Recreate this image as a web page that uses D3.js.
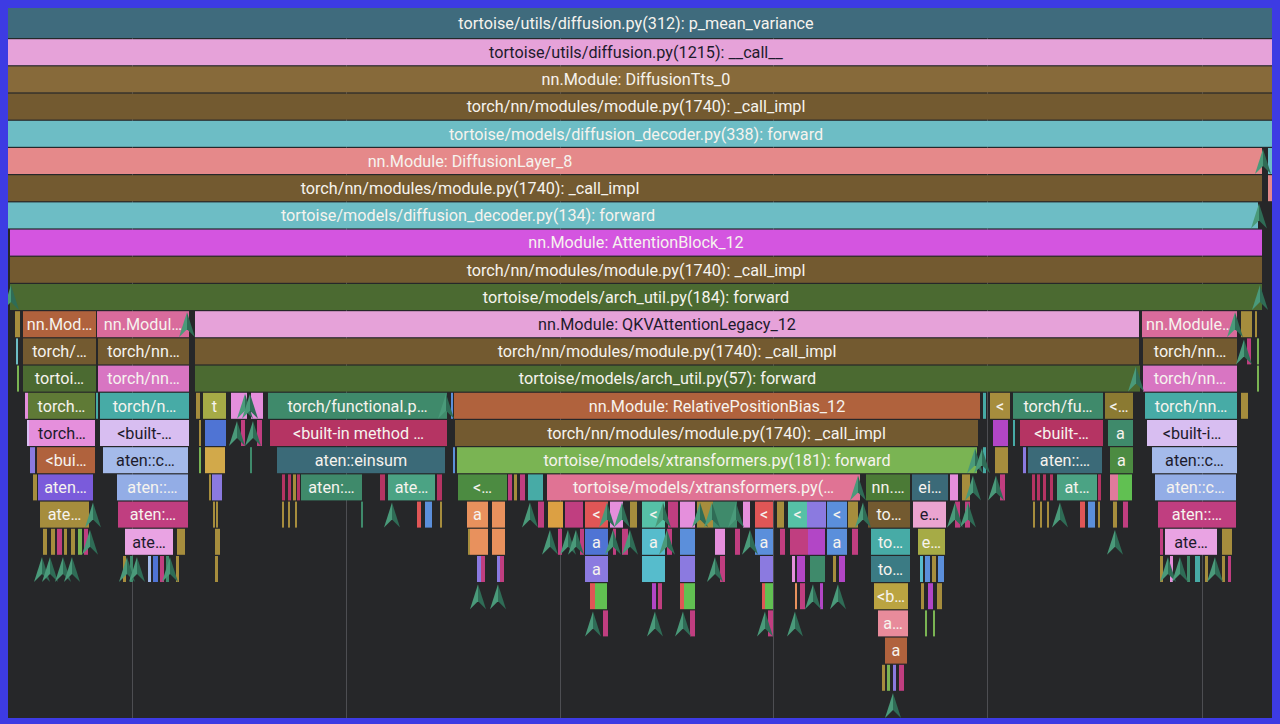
<!DOCTYPE html>
<html><head><meta charset="utf-8">
<script src="https://cdn.jsdelivr.net/npm/d3@7"></script>
<style>html,body{margin:0;padding:0;background:#3d3be3;overflow:hidden}svg{display:block}</style>
</head><body>
<svg id="chart" width="1280" height="724"></svg>
<script>
// ---- data: zoomed time window (ms) of the profile and the visible stack depth ----
const windowMs = [8, 1272];
const depthCount = 26;
const gridTicks = [132, 346, 560, 773, 987, 1202];

// frames: [depth, start ms, end ms, label, category]
const baseFrames = [
  [0, 0, 1272, "tortoise/utils/diffusion.py(312): p_mean_variance", "slate"],
  [1, 0, 1272, "tortoise/utils/diffusion.py(1215): __call__", "lilac"],
  [2, 0, 1272, "nn.Module: DiffusionTts_0", "ochre"],
  [3, 0, 1272, "torch/nn/modules/module.py(1740): _call_impl", "brown"],
  [4, 0, 1272, "tortoise/models/diffusion_decoder.py(338): forward", "cyan"],
  [5, -322, 1262, "nn.Module: DiffusionLayer_8", "salmon"],
  [5, 1268, 1272, "", "cyan"],
  [6, -322, 1262, "torch/nn/modules/module.py(1740): _call_impl", "brown"],
  [6, 1268, 1272, "", "salmon"],
  [7, -322, 1258, "tortoise/models/diffusion_decoder.py(134): forward", "cyan"],
  [8, 10, 1262, "nn.Module: AttentionBlock_12", "magenta"],
  [9, 10, 1262, "torch/nn/modules/module.py(1740): _call_impl", "brown"],
  [10, 10, 1262, "tortoise/models/arch_util.py(184): forward", "green"]
];

const leftFrames = [
  [11, 15, 20, "", "gold"],
  [11, 23, 96, "nn.Mod…", "rust"],
  [11, 97, 189, "nn.Modul…", "rose"],
  [12, 16, 18, "", "cyan"],
  [12, 23, 96, "torch/…", "brown"],
  [12, 98, 189, "torch/nn…", "brown"],
  [13, 17, 19, "", "lime"],
  [13, 23, 96, "tortoi…", "green"],
  [13, 98, 189, "torch/nn…", "orchid"],
  [14, 25, 28, "", "pinkD"],
  [14, 28, 95, "torch…", "olive"],
  [14, 96, 98, "", "teal"],
  [14, 100, 189, "torch/n…", "teal"],
  [15, 27, 29, "", "lavender"],
  [15, 29, 95, "torch…", "pinkD"],
  [15, 100, 189, "<built-…", "lavender"],
  [16, 30, 35, "", "purple"],
  [16, 37, 95, "<bui…", "rust"],
  [16, 103, 188, "aten::c…", "sky"],
  [17, 33, 37, "", "gold"],
  [17, 38, 93, "aten…", "violet"],
  [17, 117, 188, "aten::…", "peri"],
  [18, 40, 89, "ate…", "gold"],
  [18, 118, 188, "aten:…", "berry"],
  [19, 43, 47, "", "gold"], [19, 51, 55, "", "gold"], [19, 57, 62, "", "berry"],
  [19, 64, 67, "", "gold"], [19, 71, 75, "", "gold"], [19, 78, 82, "", "lime"], [19, 84, 88, "", "berry"],
  [19, 125, 173, "ate…", "pinklight"],
  [19, 177, 185, "", "gold"],
  [20, 123, 126, "", "gold"], [20, 130, 133, "", "jade"], [20, 148, 151, "", "sky"],
  [20, 153, 158, "", "royal"], [20, 160, 164, "", "berry"], [20, 166, 169, "", "jade"], [20, 176, 179, "", "gold"]
];

const qkvFrames = [
  [11, 195, 1139, "nn.Module: QKVAttentionLegacy_12", "lilac"],
  [12, 195, 1139, "torch/nn/modules/module.py(1740): _call_impl", "brown"],
  [13, 195, 1140, "tortoise/models/arch_util.py(57): forward", "green"],
  [14, 196, 200, "", "gold"],
  [14, 203, 226, "t", "tan"],
  [14, 231, 247, "", "pinkD"],
  [14, 251, 263, "", "pinkD"],
  [14, 268, 447, "torch/functional.p…", "jade"],
  [14, 451, 453, "", "blue"],
  [14, 454, 980, "nn.Module: RelativePositionBias_12", "rust"],
  [14, 983, 986, "", "teal"],
  [14, 990, 1010, "<", "gold"],
  [14, 1013, 1103, "torch/fu…", "jade"],
  [14, 1105, 1133, "<…", "goldDark"],
  [15, 199, 201, "", "gold"],
  [15, 205, 226, "", "royal"],
  [15, 241, 245, "", "berry"],
  [15, 257, 262, "", "berry"],
  [15, 270, 447, "<built-in method …", "crimson"],
  [15, 455, 978, "torch/nn/modules/module.py(1740): _call_impl", "brown"],
  [15, 993, 1008, "", "plum"],
  [15, 1013, 1015, "", "teal"],
  [15, 1020, 1103, "<built-…", "crimson"],
  [15, 1108, 1133, "a", "jade"],
  [16, 199, 201, "", "lime"],
  [16, 205, 225, "", "goldLight"],
  [16, 250, 252, "", "jade"],
  [16, 277, 445, "aten::einsum", "ltslate"],
  [16, 453, 455, "", "blue"],
  [16, 457, 977, "tortoise/models/xtransformers.py(181): forward", "lime"],
  [16, 983, 986, "", "teal"],
  [16, 995, 1008, "", "gold"],
  [16, 1023, 1026, "", "purple"],
  [16, 1028, 1102, "aten::…", "ltslate"],
  [16, 1110, 1133, "a", "leaf"]
];

const deepFrames = [
  [17, 209, 211, "", "gold"], [17, 212, 222, "", "purple"],
  [17, 282, 285, "", "crimson"], [17, 288, 291, "", "crimson"], [17, 293, 296, "", "gold"], [17, 297, 300, "", "crimson"],
  [17, 301, 362, "aten:…", "jade"],
  [17, 380, 385, "", "crimson"],
  [17, 388, 435, "ate…", "mint"],
  [17, 437, 442, "", "crimson"],
  [17, 458, 507, "<…", "leaf"],
  [17, 508, 512, "", "berry"], [17, 514, 517, "", "gold"], [17, 520, 525, "", "berry"],
  [17, 528, 543, "", "teal"],
  [17, 547, 860, "tortoise/models/xtransformers.py(…", "hotpink"],
  [17, 866, 910, "nn.…", "green2"],
  [17, 912, 948, "ei…", "ltslate"],
  [17, 950, 958, "", "pinkD"], [17, 962, 970, "", "gold"],
  [17, 1000, 1005, "", "berry"],
  [17, 1032, 1035, "", "crimson"], [17, 1037, 1040, "", "crimson"], [17, 1043, 1046, "", "crimson"], [17, 1050, 1053, "", "crimson"],
  [17, 1057, 1097, "at…", "mint"],
  [17, 1098, 1101, "", "crimson"],
  [17, 1110, 1118, "", "pinkish"], [17, 1118, 1132, "", "lightgreen"],
  [18, 213, 215, "", "gold"], [18, 216, 218, "", "gold"],
  [18, 282, 284, "", "gold"], [18, 288, 290, "", "gold"], [18, 295, 297, "", "gold"],
  [18, 361, 363, "", "jade"],
  [18, 417, 421, "", "red"], [18, 425, 432, "", "blue"], [18, 440, 442, "", "gold"],
  [18, 467, 488, "a", "orange"], [18, 492, 505, "", "orange"],
  [18, 538, 544, "", "berry"], [18, 548, 563, "", "amber"], [18, 565, 583, "", "berry"],
  [18, 585, 608, "<", "red"],
  [18, 610, 623, "", "pinkD"], [18, 630, 637, "", "gold"],
  [18, 642, 665, "<", "aqua"],
  [18, 668, 678, "", "berry"], [18, 680, 695, "", "pinkD"], [18, 697, 713, "", "gold"],
  [18, 713, 737, "", "jade"], [18, 743, 750, "", "pinkD"],
  [18, 755, 773, "<", "red"],
  [18, 777, 784, "", "gold"],
  [18, 788, 807, "<", "aqua"],
  [18, 807, 826, "", "purple"],
  [18, 827, 847, "<", "blue"],
  [18, 848, 858, "", "gold"],
  [18, 868, 910, "to…", "brown"],
  [18, 913, 946, "e…", "pinkE"],
  [18, 955, 960, "", "berry"], [18, 965, 970, "", "berry"],
  [18, 1033, 1035, "", "gold"], [18, 1040, 1042, "", "gold"], [18, 1047, 1049, "", "gold"],
  [18, 1080, 1085, "", "red"], [18, 1088, 1095, "", "blue"], [18, 1098, 1100, "", "gold"],
  [18, 1113, 1117, "", "gold"], [18, 1123, 1128, "", "berry"],
  [19, 215, 220, "", "gold"],
  [19, 468, 470, "", "gold"], [19, 470, 488, "", "orange"], [19, 492, 505, "", "orange"],
  [19, 558, 562, "", "berry"], [19, 580, 584, "", "berry"],
  [19, 585, 608, "a", "royal"],
  [19, 613, 616, "", "berry"], [19, 622, 628, "", "berry"],
  [19, 642, 665, "a", "cyanb"],
  [19, 667, 672, "", "berry"], [19, 680, 695, "", "blue"], [19, 715, 725, "", "pinkD"], [19, 735, 740, "", "berry"],
  [19, 755, 773, "a", "blue"],
  [19, 780, 785, "", "berry"], [19, 790, 808, "", "berry"], [19, 808, 825, "", "plum"],
  [19, 827, 847, "a", "blue"],
  [19, 852, 858, "", "berry"],
  [19, 871, 910, "to…", "teal"],
  [19, 918, 945, "e…", "tan"],
  [20, 215, 218, "", "gold"],
  [20, 477, 481, "", "purple"], [20, 481, 485, "", "berry"], [20, 497, 500, "", "purple"], [20, 500, 504, "", "berry"],
  [20, 585, 608, "a", "purple"],
  [20, 642, 665, "", "cyanb"],
  [20, 680, 695, "", "purple"], [20, 720, 725, "", "berry"],
  [20, 760, 773, "", "purple"], [20, 792, 795, "", "pinkD"], [20, 797, 805, "", "plum"], [20, 810, 825, "", "jade"],
  [20, 833, 836, "", "gold"], [20, 839, 845, "", "plum"],
  [20, 871, 910, "to…", "teal2"],
  [20, 920, 923, "", "cyanb"], [20, 925, 930, "", "blue"], [20, 932, 936, "", "gold"], [20, 938, 944, "", "blue"],
  [21, 590, 595, "", "red"], [21, 595, 607, "", "lightgreen"],
  [21, 652, 656, "", "plum"], [21, 658, 662, "", "berry"],
  [21, 680, 684, "", "red"], [21, 684, 695, "", "lightgreen"],
  [21, 762, 765, "", "red"], [21, 765, 773, "", "lightgreen"],
  [21, 795, 797, "", "orange"], [21, 800, 805, "", "berry"], [21, 820, 823, "", "plum"],
  [21, 874, 908, "<b…", "goldLight2"],
  [21, 921, 924, "", "gold"], [21, 928, 933, "", "plum"], [21, 937, 942, "", "gold"],
  [22, 603, 608, "", "berry"], [22, 690, 695, "", "berry"], [22, 768, 773, "", "berry"],
  [22, 878, 908, "a…", "salmon2"],
  [22, 925, 927, "", "lime"], [22, 933, 935, "", "lime"],
  [23, 885, 907, "a", "rust"],
  [24, 882, 885, "", "gold"], [24, 887, 890, "", "lime"], [24, 893, 896, "", "purple"], [24, 899, 904, "", "berry"]
];

const rightFrames = [
  [11, 1142, 1237, "nn.Module…", "rose"],
  [11, 1241, 1252, "", "gold"],
  [11, 1255, 1257, "", "gold"],
  [12, 1143, 1237, "torch/nn…", "brown"],
  [12, 1247, 1251, "", "berry"],
  [12, 1257, 1259, "", "lime"],
  [13, 1143, 1237, "torch/nn…", "orchid"],
  [13, 1257, 1259, "", "lime"],
  [14, 1145, 1237, "torch/nn…", "teal"],
  [14, 1241, 1248, "", "gold"],
  [15, 1147, 1237, "<built-i…", "lavender"],
  [16, 1152, 1237, "aten::c…", "sky"],
  [17, 1155, 1236, "aten::c…", "peri"],
  [18, 1158, 1236, "aten::…", "berry"],
  [19, 1160, 1163, "", "berry"],
  [19, 1165, 1217, "ate…", "pinklight"],
  [19, 1222, 1232, "", "gold"],
  [20, 1160, 1163, "", "gold"], [20, 1170, 1173, "", "pinkD"], [20, 1187, 1190, "", "jade"],
  [20, 1195, 1200, "", "teal"], [20, 1205, 1208, "", "gold"], [20, 1222, 1225, "", "gold"], [20, 1228, 1231, "", "berry"]
];

// collapsed (too narrow) frames: [depth, ms]
const collapsed = [
  [5, 1263], [7, 1259], [10, 11], [10, 1260],
  [11, 187], [11, 1235], [12, 1244], [13, 1136],
  [14, 245], [14, 250], [14, 446],
  [15, 237], [15, 253],
  [16, 975], [16, 982],
  [17, 858], [17, 973], [17, 996],
  [18, 93], [18, 392], [18, 530], [18, 607], [18, 622], [18, 663], [18, 700], [18, 712], [18, 736],
  [18, 863], [18, 955], [18, 968], [18, 1060],
  [19, 90], [19, 550], [19, 568], [19, 576], [19, 613], [19, 630], [19, 667], [19, 750], [19, 1115],
  [20, 42], [20, 50], [20, 63], [20, 72], [20, 127], [20, 137], [20, 170], [20, 715], [20, 1168], [20, 1180], [20, 1215],
  [21, 478], [21, 498], [21, 813], [21, 838],
  [22, 593], [22, 655], [22, 683], [22, 765], [22, 795],
  [25, 893]
];

// ---- styles ----
const categoryColors = {
  slate: "#3f6b7d", lilac: "#e6a2d9", ochre: "#876a3a", brown: "#735a30", cyan: "#6dbdc5",
  salmon: "#e5898a", magenta: "#d455e0", green: "#4b6a31", rust: "#b0623d", rose: "#d96b9c",
  orchid: "#d875c2", olive: "#5f7a36", teal: "#47aba6", jade: "#3f8a6b", crimson: "#b53463",
  lavender: "#d8bef1", sky: "#a4baea", peri: "#93ade6", violet: "#7a5bdb", gold: "#a68d3d",
  berry: "#c03e80", pinklight: "#e9a3e3", pinkD: "#e58fdc", lime: "#7ab453", ltslate: "#3b6a78",
  mint: "#4ba384", leaf: "#4c8b41", hotpink: "#e07394", orange: "#e8915d", amber: "#dca043",
  red: "#e05656", aqua: "#56c1a6", blue: "#5b8fdb", royal: "#4f74d4", cyanb: "#56bccc",
  purple: "#8b7ae0", tan: "#a6ab46", pinkE: "#eaa4d0", salmon2: "#e88b9b", plum: "#b246c6",
  goldLight: "#d2a94a", goldLight2: "#bba441", goldDark: "#8b7a32", green2: "#4b7a36",
  teal2: "#3b7b84", pinkish: "#e07b9c", lightgreen: "#61c052"
};
const darkText = new Set(["lilac", "lavender", "sky", "pinklight", "pinkD", "pinkE"]);

const frames = [...baseFrames, ...leftFrames, ...qkvFrames, ...deepFrames, ...rightFrames]
  .map(([depth, start, end, label, cat]) => ({depth, start, end, label, cat}));

// ---- layout ----
const W = 1280, H = 724;
const area = {left: 8, right: 1272, top: 8, bottom: 718};
const x = d3.scaleLinear().domain(windowMs).range([area.left, area.right]);
const y = d3.scaleLinear().domain([0, depthCount]).range([12, 12 + 27.2 * depthCount]);
const rowH = y(1) - y(0) - 1.2;
const rectY = d => d.depth === 0 ? area.top : y(d.depth);
const rectH = d => d.depth === 0 ? y(d.depth) + rowH - area.top : rowH;

const svg = d3.select("#chart");
svg.append("defs").append("clipPath").attr("id", "clip")
  .append("rect").attr("x", area.left).attr("y", area.top)
  .attr("width", area.right - area.left).attr("height", area.bottom - area.top);

svg.append("rect").attr("width", W).attr("height", H).attr("fill", "#3d3be3");
const g = svg.append("g").attr("clip-path", "url(#clip)");
g.append("rect").attr("x", area.left).attr("y", area.top)
  .attr("width", area.right - area.left).attr("height", area.bottom - area.top).attr("fill", "#262729");

g.selectAll("line.grid").data(gridTicks).join("line").attr("class", "grid")
  .attr("x1", d => x(d) + 0.5).attr("x2", d => x(d) + 0.5)
  .attr("y1", area.top).attr("y2", area.bottom)
  .attr("stroke", "#4d4e52").attr("stroke-width", 1);

g.selectAll("rect.frame").data(frames).join("rect").attr("class", "frame")
  .attr("x", d => x(d.start))
  .attr("y", rectY)
  .attr("width", d => Math.max(1, x(d.end) - x(d.start)))
  .attr("height", rectH)
  .attr("fill", d => categoryColors[d.cat]);

g.selectAll("text.label").data(frames.filter(d => d.label)).join("text").attr("class", "label")
  .attr("x", d => x((d.start + d.end) / 2))
  .attr("y", d => rectY(d) + rectH(d) / 2)
  .attr("dy", "0.36em")
  .attr("text-anchor", "middle")
  .attr("font-family", "Roboto, 'Noto Sans', sans-serif")
  .attr("font-size", 16.2)
  .attr("fill", d => darkText.has(d.cat) ? "#1d1b2c" : "#f6f3ee")
  .text(d => d.label);

// collapsed markers: upward arrowheads sitting on the row bottom
const aw = 8, ah = 25;
const marks = g.selectAll("g.collapsed").data(collapsed).join("g").attr("class", "collapsed")
  .attr("transform", d => `translate(${x(d[1])},${y(d[0]) + rowH})`);
marks.append("path").attr("d", `M0,${-ah} L${-aw},0 L0,${-ah * 0.32} Z`).attr("fill", "#4a9a7a");
marks.append("path").attr("d", `M0,${-ah} L${aw},0 L0,${-ah * 0.32} Z`).attr("fill", "#2f6c56");
</script>
</body></html>
